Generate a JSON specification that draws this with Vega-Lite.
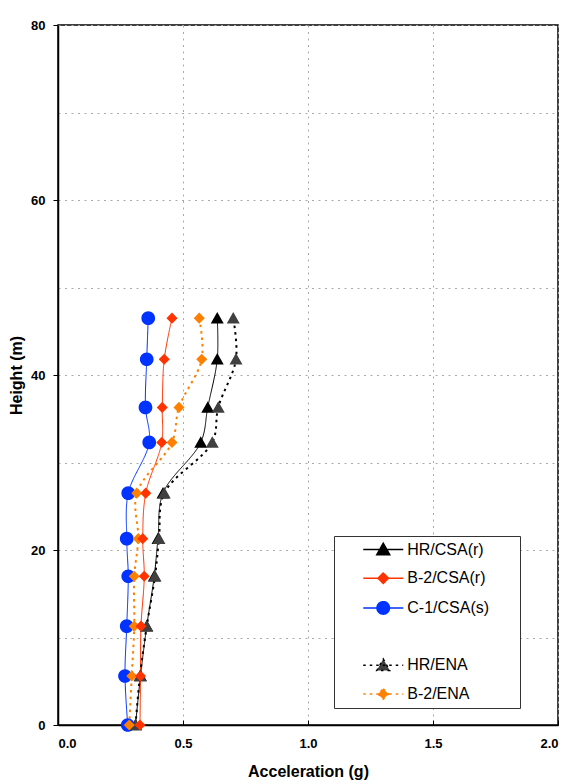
{
  "$schema": "https://vega.github.io/schema/vega-lite/v6.json",
  "width": 500,
  "height": 700,
  "autosize": {"type": "none"},
  "padding": {"left": 58, "top": 25, "right": 21, "bottom": 59},
  "background": "white",
  "config": {
    "font": "Liberation Sans",
    "view": {"stroke": "#000000", "strokeWidth": 1.5},
    "axis": {
      "domainColor": "#000000",
      "domainWidth": 1.5,
      "tickColor": "#000000",
      "tickWidth": 1,
      "labelFont": "Liberation Sans",
      "labelFontWeight": "bold",
      "labelFontSize": 13,
      "labelColor": "#000000",
      "titleFont": "Liberation Sans",
      "titleFontWeight": "bold",
      "titleFontSize": 16,
      "titleColor": "#000000",
      "grid": true,
      "gridColor": "#aaaaaa",
      "gridDash": [2, 4.5],
      "gridWidth": 1
    },
    "legend": {
      "padding": 5.5,
      "rowPadding": 10.7,
      "symbolSize": 100,
      "symbolStrokeWidth": 1.5,
      "symbolOffset": 35.75,
      "labelOffset": 16,
      "labelFont": "Liberation Sans",
      "labelFontSize": 16,
      "labelColor": "#000000",
      "labelLimit": 300,
      "strokeColor": "#333333",
      "fillColor": "#ffffff"
    }
  },
  "data": {
    "values": [
      {"series": "C-1/CSA(s)", "h": 0, "g": 0.279},
      {"series": "C-1/CSA(s)", "h": 5.6, "g": 0.268},
      {"series": "C-1/CSA(s)", "h": 11.3, "g": 0.275},
      {"series": "C-1/CSA(s)", "h": 17.0, "g": 0.281},
      {"series": "C-1/CSA(s)", "h": 21.3, "g": 0.275},
      {"series": "C-1/CSA(s)", "h": 26.5, "g": 0.281},
      {"series": "C-1/CSA(s)", "h": 32.3, "g": 0.365},
      {"series": "C-1/CSA(s)", "h": 36.3, "g": 0.35},
      {"series": "C-1/CSA(s)", "h": 41.8, "g": 0.355},
      {"series": "C-1/CSA(s)", "h": 46.5, "g": 0.361},
      {"series": "HR/CSA(r)", "h": 0, "g": 0.31},
      {"series": "HR/CSA(r)", "h": 5.6, "g": 0.33},
      {"series": "HR/CSA(r)", "h": 11.3, "g": 0.355},
      {"series": "HR/CSA(r)", "h": 17.0, "g": 0.385},
      {"series": "HR/CSA(r)", "h": 21.3, "g": 0.4},
      {"series": "HR/CSA(r)", "h": 26.5, "g": 0.42},
      {"series": "HR/CSA(r)", "h": 32.3, "g": 0.571},
      {"series": "HR/CSA(r)", "h": 36.3, "g": 0.599},
      {"series": "HR/CSA(r)", "h": 41.8, "g": 0.637},
      {"series": "HR/CSA(r)", "h": 46.5, "g": 0.637},
      {"series": "HR/ENA", "h": 0, "g": 0.31},
      {"series": "HR/ENA", "h": 5.6, "g": 0.328},
      {"series": "HR/ENA", "h": 11.3, "g": 0.355},
      {"series": "HR/ENA", "h": 17.0, "g": 0.388},
      {"series": "HR/ENA", "h": 21.3, "g": 0.404},
      {"series": "HR/ENA", "h": 26.5, "g": 0.425},
      {"series": "HR/ENA", "h": 32.3, "g": 0.617},
      {"series": "HR/ENA", "h": 36.3, "g": 0.641},
      {"series": "HR/ENA", "h": 41.8, "g": 0.712},
      {"series": "HR/ENA", "h": 46.5, "g": 0.701},
      {"series": "B-2/ENA", "h": 0, "g": 0.285},
      {"series": "B-2/ENA", "h": 5.6, "g": 0.295},
      {"series": "B-2/ENA", "h": 11.3, "g": 0.305},
      {"series": "B-2/ENA", "h": 17.0, "g": 0.305},
      {"series": "B-2/ENA", "h": 21.3, "g": 0.321},
      {"series": "B-2/ENA", "h": 26.5, "g": 0.315},
      {"series": "B-2/ENA", "h": 32.3, "g": 0.456},
      {"series": "B-2/ENA", "h": 36.3, "g": 0.484},
      {"series": "B-2/ENA", "h": 41.8, "g": 0.575},
      {"series": "B-2/ENA", "h": 46.5, "g": 0.565},
      {"series": "B-2/CSA(r)", "h": 0, "g": 0.328},
      {"series": "B-2/CSA(r)", "h": 5.6, "g": 0.33},
      {"series": "B-2/CSA(r)", "h": 11.3, "g": 0.332},
      {"series": "B-2/CSA(r)", "h": 17.0, "g": 0.345},
      {"series": "B-2/CSA(r)", "h": 21.3, "g": 0.339},
      {"series": "B-2/CSA(r)", "h": 26.5, "g": 0.351},
      {"series": "B-2/CSA(r)", "h": 32.3, "g": 0.415},
      {"series": "B-2/CSA(r)", "h": 36.3, "g": 0.417},
      {"series": "B-2/CSA(r)", "h": 41.8, "g": 0.425},
      {"series": "B-2/CSA(r)", "h": 46.5, "g": 0.456}
    ]
  },
  "encoding": {
    "x": {
      "field": "g",
      "type": "quantitative",
      "scale": {"domain": [0, 2], "nice": false, "zero": false},
      "axis": {
        "title": "Acceleration (g)",
        "values": [0, 0.5, 1, 1.5, 2],
        "format": ".1f",
        "tickSize": -5,
        "labelPadding": 17,
        "titlePadding": 13
      }
    },
    "y": {
      "field": "h",
      "type": "quantitative",
      "scale": {"domain": [0, 80], "nice": false},
      "axis": {
        "title": "Height (m)",
        "values": [0, 10, 20, 30, 40, 50, 60, 70, 80],
        "labelExpr": "datum.value % 20 === 0 ? datum.label : ''",
        "tickOpacity": {"condition": {"test": "datum.value % 20 === 0", "value": 1}, "value": 0},
        "tickSize": 5,
        "labelPadding": 8,
        "titlePadding": 6
      }
    }
  },
  "layer": [
    {
      "transform": [{"filter": "indexof(['HR/CSA(r)', 'B-2/CSA(r)', 'C-1/CSA(s)'], datum.series) >= 0"}],
      "mark": {"type": "line", "interpolate": "catmull-rom", "strokeWidth": 1},
      "encoding": {
        "order": {"field": "h", "type": "quantitative"},
        "stroke": {
          "field": "series",
          "type": "nominal",
          "scale": {
            "domain": ["HR/CSA(r)", "B-2/CSA(r)", "C-1/CSA(s)", "\u200b\u00a0\u00a0\u00a0\u00a0\u00a0\u00a0\u00a0\u00a0\u00a0\u00a0\u00a0\u00a0\u00a0\u00a0\u00a0\u00a0\u00a0\u00a0\u00a0\u00a0\u00a0\u00a0\u00a0\u00a0\u200b", "HR/ENA", "B-2/ENA"],
            "range": ["#000000", "#ff3300", "#0033ff", "transparent", "#000000", "#ff8000"]
          },
          "legend": {"title": null, "orient": "none", "legendX": 276, "legendY": 511}
        },
        "strokeDash": {
          "field": "series",
          "type": "nominal",
          "scale": {
            "domain": ["HR/CSA(r)", "B-2/CSA(r)", "C-1/CSA(s)", "\u200b\u00a0\u00a0\u00a0\u00a0\u00a0\u00a0\u00a0\u00a0\u00a0\u00a0\u00a0\u00a0\u00a0\u00a0\u00a0\u00a0\u00a0\u00a0\u00a0\u00a0\u00a0\u00a0\u00a0\u00a0\u200b", "HR/ENA", "B-2/ENA"],
            "range": [[1, 0], [1, 0], [1, 0], [1, 0], [2.5, 4], [2.5, 4]]
          },
          "legend": {"title": null, "orient": "none", "legendX": 276, "legendY": 511}
        }
      }
    },
    {
      "transform": [{"filter": "indexof(['HR/ENA', 'B-2/ENA'], datum.series) >= 0"}],
      "mark": {"type": "line", "interpolate": "catmull-rom", "strokeWidth": 2},
      "encoding": {
        "order": {"field": "h", "type": "quantitative"},
        "stroke": {"field": "series", "type": "nominal", "legend": {"title": null, "orient": "none", "legendX": 276, "legendY": 511}},
        "strokeDash": {"field": "series", "type": "nominal", "legend": {"title": null, "orient": "none", "legendX": 276, "legendY": 511}}
      }
    },
    {
      "transform": [{"filter": "datum.series === 'C-1/CSA(s)'"}],
      "mark": {"type": "point", "filled": true, "opacity": 1, "size": 120},
      "encoding": {
        "shape": {
          "field": "series",
          "type": "nominal",
          "scale": {
            "domain": ["HR/CSA(r)", "B-2/CSA(r)", "C-1/CSA(s)", "\u200b\u00a0\u00a0\u00a0\u00a0\u00a0\u00a0\u00a0\u00a0\u00a0\u00a0\u00a0\u00a0\u00a0\u00a0\u00a0\u00a0\u00a0\u00a0\u00a0\u00a0\u00a0\u00a0\u00a0\u00a0\u200b", "HR/ENA", "B-2/ENA"],
            "range": [
              "M-4,0H4M0,-1.25L1.3,1.05L-1.3,1.05Z",
              "M-4,0H4M0,-1.05L1.05,0L0,1.05L-1.05,0Z",
              "M-4,0H4M-1.25,0A1.25,1.25,0,1,0,1.25,0A1.25,1.25,0,1,0,-1.25,0Z",
              "circle",
              "M-4,0H4M0,-1.25L1.3,1.05L-1.3,1.05Z",
              "M-4,0H4M0,-1.05L1.05,0L0,1.05L-1.05,0Z"
            ]
          },
          "legend": {"title": null, "orient": "none", "legendX": 276, "legendY": 511}
        },
        "fill": {
          "field": "series",
          "type": "nominal",
          "scale": {
            "domain": ["HR/CSA(r)", "B-2/CSA(r)", "C-1/CSA(s)", "\u200b\u00a0\u00a0\u00a0\u00a0\u00a0\u00a0\u00a0\u00a0\u00a0\u00a0\u00a0\u00a0\u00a0\u00a0\u00a0\u00a0\u00a0\u00a0\u00a0\u00a0\u00a0\u00a0\u00a0\u00a0\u200b", "HR/ENA", "B-2/ENA"],
            "range": ["#000000", "#ff3300", "#0033ff", "transparent", "#404040", "#ff8000"]
          },
          "legend": {"title": null, "orient": "none", "legendX": 276, "legendY": 511}
        }
      }
    },
    {
      "transform": [{"filter": "indexof(['HR/CSA(r)', 'HR/ENA'], datum.series) >= 0"}],
      "mark": {"type": "point", "filled": true, "opacity": 1, "size": 100},
      "encoding": {
        "shape": {"field": "series", "type": "nominal", "legend": {"title": null, "orient": "none", "legendX": 276, "legendY": 511}},
        "fill": {"field": "series", "type": "nominal", "legend": {"title": null, "orient": "none", "legendX": 276, "legendY": 511}}
      }
    },
    {
      "transform": [{"filter": "indexof(['B-2/CSA(r)', 'B-2/ENA'], datum.series) >= 0"}],
      "mark": {"type": "point", "filled": true, "opacity": 1, "size": 110},
      "encoding": {
        "shape": {"field": "series", "type": "nominal", "legend": {"title": null, "orient": "none", "legendX": 276, "legendY": 511}},
        "fill": {"field": "series", "type": "nominal", "legend": {"title": null, "orient": "none", "legendX": 276, "legendY": 511}}
      }
    }
  ]
}
